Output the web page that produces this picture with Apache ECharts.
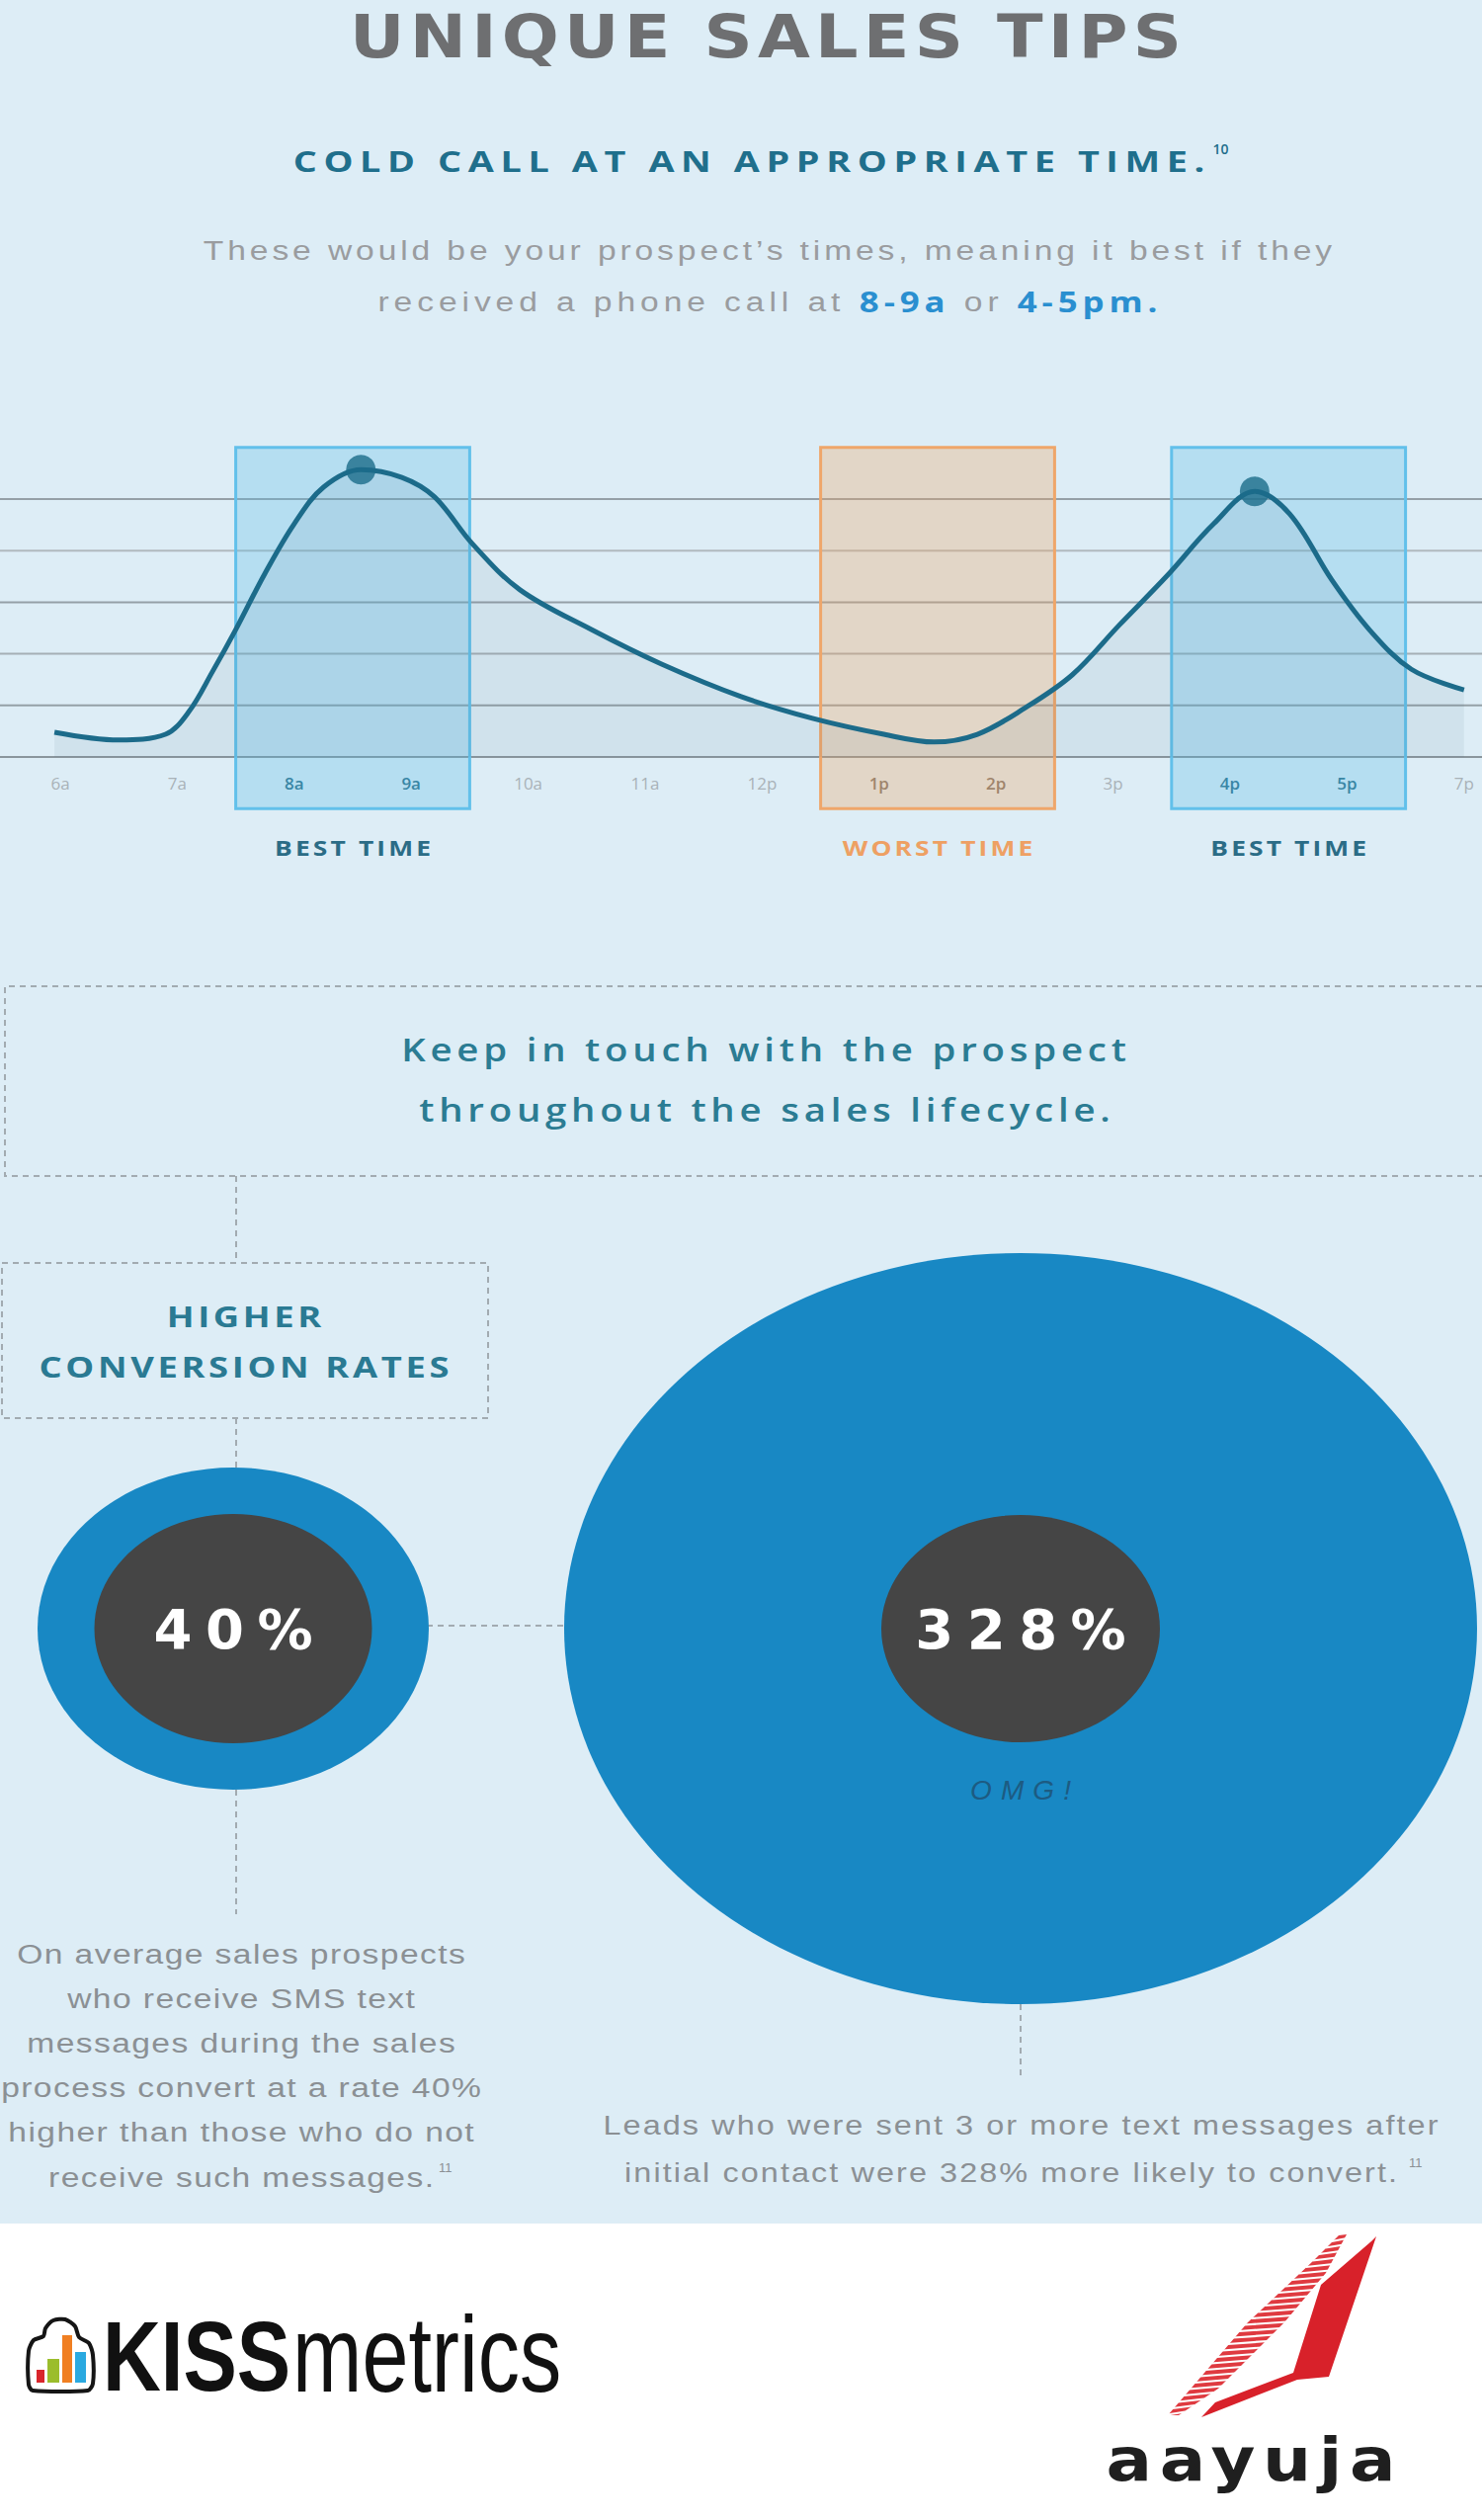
<!DOCTYPE html>
<html><head><meta charset="utf-8">
<script src="https://cdn.jsdelivr.net/npm/echarts@6/dist/echarts.min.js"></script>
<style>
html,body{margin:0;padding:0;}
body{width:1500px;height:2550px;background:linear-gradient(#ddedf6 0,#ddedf6 2250px,#ffffff 2250px);}
#main{width:1500px;height:2550px;}
</style></head><body><div id="main"></div>
<script>
// ================= DATA =================
const hourLabels = ['6a','7a','8a','9a','10a','11a','12p','1p','2p','3p','4p','5p','7p'];
const hourSlots  = [0,1,2,3,4,5,6,7,8,9,10,11,12];
// receptiveness curve (x = hour slot, y = level)
const curveHour  = [-0.05,0.5,0.9,1.1,1.3,1.5,1.75,2.0,2.25,2.57,2.92,3.2,3.52,3.93,4.54,5.14,5.82,6.43,7.04,7.47,7.84,8.24,8.65,9.05,9.46,9.86,10.21,10.51,10.87,11.19,11.55,12.0];
const curveLevel = [0.48,0.33,0.44,0.88,1.65,2.47,3.56,4.52,5.23,5.57,5.42,5.04,4.14,3.24,2.47,1.8,1.17,0.75,0.44,0.29,0.44,0.94,1.59,2.55,3.51,4.52,5.15,4.71,3.43,2.47,1.7,1.3];
const peakHour   = [2.57, 10.21];
const peakLevel  = [5.57, 5.15];
const windowNames = ['BEST TIME','WORST TIME','BEST TIME'];
const windowKinds = ['best','worst','best'];
const windowFrom  = [1.5, 6.5, 9.5];
const windowTo    = [3.5, 8.5, 11.5];
const gridLevels  = [0,1,2,3,4,5];
const statValues  = [40, 328];
const statNotes   = ['', 'OMG!'];

const titleText   = 'UNIQUE SALES TIPS';
const headingText = 'COLD CALL AT AN APPROPRIATE TIME.';
const headingNote = '10';
const introLine1  = 'These would be your prospect\u2019s times, meaning it best if they';
const introParts  = [['received a phone call at','g'],['8-9a','b'],['or','g'],['4-5pm.','b']];
const keepLines   = ['Keep in touch with the prospect','throughout the sales lifecycle.'];
const higherLines = ['HIGHER','CONVERSION RATES'];
const leftLines   = ['On average sales prospects','who receive SMS text','messages during the sales','process convert at a rate 40%','higher than those who do not','receive such messages.'];
const rightLines  = ['Leads who were sent 3 or more text messages after','initial contact were 328% more likely to convert.'];
const noteRef     = '11';

// ================= LAYOUT / STYLE =================
const W = 1500;
const X0PX = 61, XSTEP = 118.4, Y0PX = 766, YSTEP = 52.2;
const X_MIN = -X0PX / XSTEP, X_MAX = (W - X0PX) / XSTEP;
const Y_MIN = -1, Y_MAX = 7, BOX_TOP = 6;
const gridTop = Y0PX - Y_MAX * YSTEP, gridH = (Y_MAX - Y_MIN) * YSTEP;
const GRID_COLORS = ['#8a969d','#95a0a7','#a5afb5','#95a0a7','#b0b9be','#95a0a7'];
const WIN_STYLE = {
  best:  {fill:'rgba(91,189,230,0.30)', stroke:'#62c0ea', text:'#2b6c86'},
  worst: {fill:'rgba(236,165,100,0.32)', stroke:'#efa66a', text:'#eea063'}
};
const OUTER_SIZE = [[396,326],[924,760]];
const INNER_SIZE = [[281,232],[282,230]];
const DASH = {stroke:'#a2abb1', lineWidth:2, lineDash:[6,5], fill:null};
const SX = 1.2;   // horizontal stretch of the reference's lettering

const mctx = document.createElement('canvas').getContext('2d');
function measure(t, font){ mctx.font = font; return mctx.measureText(t).width; }
function fit(t, font, target, sx){ sx = sx || 1; return Math.max(0, (target / sx - measure(t, font)) / Math.max(1, t.length - 1)); }
const spacing = {};

function T(text, x, y, font, fill, align, ls, sx, extra){
  align = align || 'center'; sx = sx || 1;
  if (ls) spacing[text] = ls;
  const dx = align === 'center' ? sx * (ls || 0) / 2 : 0;
  return Object.assign({type:'text', x:x+dx, y:y, z:10, silent:true, scaleX:sx,
    style:{text:text, font:font, fill:fill, align:align, textAlign:align, verticalAlign:'middle', textVerticalAlign:'middle'}}, extra || {});
}
function L(x1,y1,x2,y2){ return {type:'line', z:0, silent:true, shape:{x1,y1,x2,y2}, style:Object.assign({}, DASH)}; }
function rightEnd(cx, t, font, ls, sx){ return cx + sx * (measure(t, font) + (t.length - 1) * ls) / 2; }

const G = [];
// headings
const fTitle = 'bold 61px "DejaVu Sans"', sxTitle = 1.12;
G.push(T(titleText, 775, 37, fTitle, '#6e6f71', 'center', fit(titleText, fTitle, 842, sxTitle), sxTitle));
const fHead = '700 28px "Open Sans"', sxHead = 1.35;
const headLS = fit(headingText, fHead, 923, sxHead);
G.push(T(headingText, 758, 163, fHead, '#1f6f8c', 'center', headLS, sxHead));
G.push(T(headingNote, rightEnd(758, headingText, fHead, headLS, sxHead) + 8, 150, '600 14px "Open Sans"', '#1f6f8c', 'left'));
const fBody = '400 28px "Liberation Sans"';
G.push(T(introLine1, 777, 253, fBody, '#9a9c9f', 'center', fit(introLine1, fBody, 1143, SX), SX));
(function(){
  const fonts = {g: fBody, b: '700 29px "Open Sans"'};
  const cols = {g:'#9a9c9f', b:'#2a8fd0'};
  const spW = measure(' ', fBody);
  let sumW = 0, nChars = 0;
  introParts.forEach(p => { sumW += measure(p[0], fonts[p[1]]); nChars += p[0].length; });
  sumW += spW * (introParts.length - 1); nChars += introParts.length - 1;
  const s = Math.max(0, (789 / SX - sumW) / (nChars - 1));
  let x = 777 - 789 / 2;
  introParts.forEach(p => {
    G.push(T(p[0], x, 305, fonts[p[1]], cols[p[1]], 'left', s, SX));
    x += SX * (measure(p[0], fonts[p[1]]) + p[0].length * s + spW + s);
  });
})();
// chart window labels spacing (used by custom series)
const fWin = '700 22px "Open Sans"';
const winLS = fit('BEST TIME', fWin, 158, SX);
spacing['BEST TIME'] = winLS; spacing['WORST TIME'] = winLS;

// keep in touch box
G.push({type:'polyline', z:0, silent:true, shape:{points:[[1500,998],[5,998],[5,1190],[1500,1190]]}, style:Object.assign({}, DASH)});
const fKeep = '600 32px "Open Sans"';
const keepLS = fit(keepLines[0], fKeep, 734, SX);
G.push(T(keepLines[0], 773, 1061, fKeep, '#2b7c93', 'center', keepLS, SX));
G.push(T(keepLines[1], 774, 1122, fKeep, '#2b7c93', 'center', keepLS, SX));
G.push(L(239,1190,239,1278));
G.push({type:'rect', z:0, silent:true, shape:{x:2, y:1278, width:492, height:157}, style:Object.assign({}, DASH)});
const fHigh = '700 28px "Open Sans"', sxHigh = 1.3;
const highLS = fit(higherLines[1], fHigh, 415, sxHigh);
G.push(T(higherLines[0], 247, 1332, fHigh, '#2a7a93', 'center', highLS, sxHigh));
G.push(T(higherLines[1], 247, 1383, fHigh, '#2a7a93', 'center', highLS, sxHigh));
G.push(L(239,1435,239,1486));
G.push(L(239,1811,239,1937));
G.push(L(432,1645,574,1645));
G.push(L(1033,2028,1033,2102));
const fStat = 'bold 56px "DejaVu Sans"';
spacing['40%'] = fit('40%', fStat, 161);
spacing['328%'] = spacing['40%'];

// paragraphs
const fPara = '400 28px "Liberation Sans"';
const leftLS = fit(leftLines[3], fPara, 486, SX);
leftLines.forEach((t,i) => G.push(T(t, 244, 1977 + 45.2*i, fPara, '#8b9094', 'center', leftLS, SX)));
(function(){
  const t = leftLines[leftLines.length-1];
  G.push(T(noteRef, rightEnd(244, t, fPara, leftLS, SX) + 5, 1977 + 45.2*5 - 10, '400 13px "Liberation Sans"', '#8b9094', 'left'));
})();
const fPara2 = '400 27px "Liberation Sans"';
const rightLS = fit(rightLines[0], fPara2, 845, SX);
G.push(T(rightLines[0], 1033, 2150, fPara2, '#8b9094', 'center', rightLS, SX));
G.push(T(rightLines[1], 1023, 2198, fPara2, '#8b9094', 'center', rightLS, SX));
G.push(T(noteRef, rightEnd(1023, rightLines[1], fPara2, rightLS, SX) + 12, 2188, '400 13px "Liberation Sans"', '#8b9094', 'left'));

// logos
G.push({type:'polygon', z:1, silent:true, shape:{smooth:0.25, points:[[33,2419],[89,2419],[94,2412],[94,2383],[90,2371],[80,2365],[76,2354],[66,2347],[54,2348],[46,2356],[44,2364],[34,2368],[29,2379],[29,2413]]}, style:{fill:'#ffffff', stroke:'#151515', lineWidth:4}});
[[37,2398,8,13,'#d9262c'],[48,2387,12,24,'#9bbd2c'],[63,2363,10,48,'#f07f22'],[76,2380,11,31,'#2aa9e0']].forEach(b =>
  G.push({type:'rect', z:2, silent:true, shape:{x:b[0], y:b[1], width:b[2], height:b[3]}, style:{fill:b[4]}}));
G.push(T('KISS', 104, 2384, '700 100px "Liberation Sans"', '#111111', 'left', 0, 0.815));
G.push(T('metrics', 296, 2382, '400 100px "Liberation Sans"', '#111111', 'left', 0, 0.845, {scaleY:1.1}));
// striped sail
const bandL = [[1355,2262],[1330,2287],[1263,2350],[1182,2444]];
const bandR = [[1363,2261],[1342,2300],[1300,2350],[1233,2417],[1193,2444]];
G.push({type:'polygon', z:1, silent:true, shape:{points:bandR.concat(bandL.slice().reverse())}, style:{fill:'#df3a40'}});
function edgeX(edge, y){
  for (let i = 0; i < edge.length - 1; i++){
    const a = edge[i], b = edge[i+1];
    if (y >= a[1] && y <= b[1]) return a[0] + (b[0]-a[0]) * (y - a[1]) / (b[1]-a[1]);
  }
  return null;
}
for (let y = 2266; y < 2443; y += 6.5){
  const xl = edgeX(bandL, y), xr = edgeX(bandR, y);
  if (xl != null && xr != null) G.push({type:'line', z:2, silent:true, shape:{x1:xl-3, y1:y+2, x2:xr+3, y2:y-1}, style:{stroke:'#ffffff', lineWidth:2.2}});
}
G.push({type:'polygon', z:3, silent:true, shape:{points:[[1393,2263],[1345,2405],[1313,2408],[1216,2446],[1230,2431],[1309,2401],[1337,2312],[1388,2268]]}, style:{fill:'#d8212a'}});
const fAay = '700 60px "DejaVu Sans"';
G.push(T('aayuja', 1266, 2489, fAay, '#1f1f1f', 'center', fit('aayuja', fAay, 293, 1.15), 1.15));
const fOmg = 'italic 400 28px "Liberation Sans"';
spacing['OMG!'] = fit('OMG!', fOmg, 102);

function windowKindAt(v){
  for (let i = 0; i < windowFrom.length; i++) if (v > windowFrom[i] && v < windowTo[i]) return windowKinds[i];
  return null;
}

const option = {
  animation: false,
  textStyle: {fontFamily: 'Open Sans'},
  grid: [
    {left:0, right:0, top:gridTop, height:gridH},
    {left:236, right:W-1033, top:1448, height:400}
  ],
  xAxis: [
    {gridIndex:0, type:'value', min:X_MIN, max:X_MAX, axisLine:{show:false}, axisTick:{show:false}, splitLine:{show:false},
     axisLabel:{show:true, inside:true, margin:17, customValues:hourSlots,
       formatter: v => { const i = hourSlots.indexOf(Math.round(v)); const k = windowKindAt(v) || 'out'; return '{' + k + '|' + hourLabels[i] + '}'; },
       rich:{
         out:{color:'#a9b2b8', fontSize:17, fontFamily:'Open Sans'},
         best:{color:'#2c6f8a', fontSize:17, fontWeight:600, fontFamily:'Open Sans'},
         worst:{color:'#7b7670', fontSize:17, fontWeight:600, fontFamily:'Open Sans'}
       }}},
    {gridIndex:1, type:'category', data: statValues.map(v => v + '%'), boundaryGap:false, show:false}
  ],
  yAxis: [
    {gridIndex:0, type:'value', min:Y_MIN, max:Y_MAX, show:false, splitLine:{show:false}},
    {gridIndex:1, type:'value', min:-1, max:1, show:false, splitLine:{show:false}}
  ],
  series: [
    {type:'custom', name:'levels', xAxisIndex:0, yAxisIndex:0, z:1, silent:true,
     data: gridLevels.map(v => [v]),
     renderItem: (params, api) => {
       const y = api.coord([0, api.value(0)])[1];
       const cs = params.coordSys;
       return {type:'line', shape:{x1:cs.x, y1:y, x2:cs.x + cs.width, y2:y}, style:{stroke:GRID_COLORS[params.dataIndex], lineWidth:2}};
     }},
    {type:'custom', name:'windows', xAxisIndex:0, yAxisIndex:0, z:2, silent:true,
     data: windowFrom.map((s,i) => [s, windowTo[i]]),
     renderItem: (params, api) => {
       const i = params.dataIndex;
       const p0 = api.coord([api.value(0), BOX_TOP]);
       const p1 = api.coord([api.value(1), Y_MIN]);
       const st = WIN_STYLE[windowKinds[i]];
       return {type:'group', children:[
         {type:'rect', shape:{x:p0[0], y:p0[1], width:p1[0]-p0[0], height:p1[1]-p0[1]}, style:{fill:st.fill, stroke:st.stroke, lineWidth:3}},
         {type:'text', x:(p0[0]+p1[0])/2 + SX*winLS/2, y:p1[1] + 39, scaleX:SX, style:{text:windowNames[i], fill:st.text, font:fWin, align:'center', textAlign:'center', verticalAlign:'middle', textVerticalAlign:'middle'}}
       ]};
     }},
    {type:'line', name:'receptiveness', xAxisIndex:0, yAxisIndex:0, z:3, silent:true, smooth:0.35, symbol:'none',
     data: curveHour.map((h,i) => [h, curveLevel[i]]),
     lineStyle:{color:'#1c6b8a', width:5},
     areaStyle:{color:'rgba(70,105,130,0.12)'}},
    {type:'scatter', name:'peaks', xAxisIndex:0, yAxisIndex:0, z:4, silent:true, symbolSize:30,
     data: peakHour.map((h,i) => [h, peakLevel[i]]),
     itemStyle:{color:'#1c6b8a'}},
    {type:'scatter', name:'outer', xAxisIndex:1, yAxisIndex:1, z:2, silent:true,
     data: statValues.map((v,i) => ({value:[i,0], symbolSize:OUTER_SIZE[i]})),
     itemStyle:{color:'#1888c4', opacity:1},
     label:{show:true, position:'inside', offset:[spacing['OMG!']/2,163], formatter: p => statNotes[p.dataIndex],
       color:'#1d5b82', fontSize:28, fontStyle:'italic', fontFamily:'Liberation Sans'}},
    {type:'scatter', name:'inner', xAxisIndex:1, yAxisIndex:1, z:3, silent:true,
     data: statValues.map((v,i) => ({value:[i,0], symbolSize:INNER_SIZE[i]})),
     itemStyle:{color:'#454545', opacity:1},
     label:{show:true, position:'inside', offset:[spacing['40%']/2, 0], formatter: p => statValues[p.dataIndex] + '%',
       color:'#ffffff', fontSize:56, fontWeight:'bold', fontFamily:'DejaVu Sans'}}
  ],
  graphic: G
};

const chart = echarts.init(document.getElementById('main'), null, {renderer:'svg', width:1500, height:2550});
chart.setOption(option);
function applySpacing(){
  document.querySelectorAll('#main svg text').forEach(el => {
    const t = (el.textContent || '').trim();
    if (spacing[t] != null) el.style.letterSpacing = spacing[t].toFixed(2) + 'px';
  });
}
applySpacing();
chart.on('finished', applySpacing);
setTimeout(applySpacing, 0);
requestAnimationFrame(applySpacing);
</script></body></html>
